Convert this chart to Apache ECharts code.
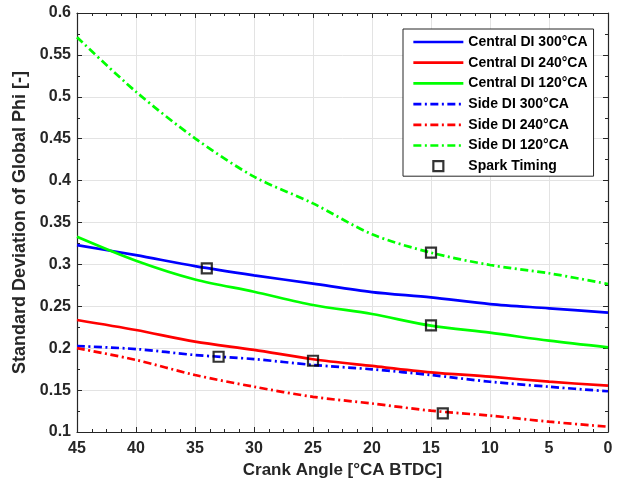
<!DOCTYPE html>
<html>
<head>
<meta charset="utf-8">
<script src="https://cdn.jsdelivr.net/npm/echarts@6/dist/echarts.min.js"></script>
<style>
  html, body { margin: 0; padding: 0; background: #fff; }
  #chart { width: 624px; height: 485px; }
</style>
</head>
<body>
<div id="chart"></div>
<script>
// crank angle [°CA BTDC]
const crankAngles = [45, 40, 35, 30, 25, 20, 15, 10, 5, 0];

const centralDI300 = [0.323, 0.311, 0.298, 0.287, 0.277, 0.267, 0.2607, 0.2527, 0.2476, 0.2424];
const centralDI240 = [0.2337, 0.2217, 0.2078, 0.198, 0.1868, 0.1788, 0.1712, 0.166, 0.160, 0.1553];
const centralDI120 = [0.333, 0.3044, 0.282, 0.2674, 0.2516, 0.2408, 0.2269, 0.2185, 0.209, 0.201];
const sideDI300 = [0.2026, 0.199, 0.1919, 0.187, 0.180, 0.1748, 0.168, 0.160, 0.154, 0.1486];
const sideDI240 = [0.200, 0.186, 0.168, 0.154, 0.142, 0.134, 0.1254, 0.1195, 0.1123, 0.1063];
const sideDI120 = [0.5711, 0.506, 0.4505, 0.4047, 0.3728, 0.336, 0.314, 0.2993, 0.2894, 0.2766];

const sparkAngles = [34, 33, 25, 15, 15, 14];
const sparkValues = [0.2953, 0.1898, 0.185, 0.314, 0.2273, 0.1223];

const lineNames = ['Central DI 300°CA', 'Central DI 240°CA', 'Central DI 120°CA',
                   'Side DI 300°CA', 'Side DI 240°CA', 'Side DI 120°CA'];

const font = "'Liberation Sans', Arial, sans-serif";
const ink = '#262626';
const dashDot = [8, 3.5, 2, 3.5];

const chart = echarts.init(document.getElementById('chart'));

function pairs(xs, ys) {
    return xs.map((x, i) => [x, ys[i]]);
}

function lineSeries(name, values, color, dashed) {
    return {
        name: name,
        type: 'line',
        data: pairs(crankAngles, values),
        smooth: 0.3,
        showSymbol: false,
        symbol: 'none',
        color: color,
        lineStyle: { color: color, width: 2.7, type: dashed ? dashDot : 'solid' }
    };
}

const boxAxis = {
    axisLine: { show: true, onZero: false, lineStyle: { color: ink, width: 1.2 } },
    axisTick: { show: true, inside: true, length: 5, lineStyle: { color: ink } }
};

chart.setOption({
    backgroundColor: '#fff',
    animation: false,
    textStyle: { fontFamily: font },
    grid: { left: 77, right: 16, top: 13, bottom: 53 },
    legend: {
        orient: 'vertical',
        left: 403,
        top: 29,
        padding: [6, 6, 3, 9],
        itemWidth: 50,
        itemHeight: 10,
        itemGap: 6.7,
        backgroundColor: '#fff',
        borderColor: ink,
        borderWidth: 1,
        lineStyle: { width: 2.7 },
        textStyle: { fontFamily: font, fontWeight: 'bold', fontSize: 14, lineHeight: 14, color: '#000' },
        data: lineNames.map(n => ({ name: n, itemStyle: { opacity: 0 } })).concat([{
            name: 'Spark Timing',
            icon: 'path://M0,0L10,0L10,10L0,10Z',
            itemStyle: { color: 'rgba(0,0,0,0)', borderColor: '#000', borderWidth: 2.2 }
        }])
    },
    xAxis: [Object.assign({
        type: 'value',
        inverse: true,
        min: 0,
        max: 45,
        interval: 5,
        name: 'Crank Angle [°CA BTDC]',
        nameLocation: 'middle',
        nameGap: 27,
        nameTextStyle: { fontFamily: font, fontWeight: 'bold', fontSize: 17, color: ink },
        minorTick: { show: true, splitNumber: 4, length: 3, lineStyle: { color: ink } },
        axisLabel: { fontFamily: font, fontWeight: 'bold', fontSize: 16, color: ink, margin: 9 },
        splitLine: { show: true, lineStyle: { color: '#e3e3e3', width: 1 } }
    }, boxAxis), Object.assign({
        type: 'value',
        inverse: true,
        position: 'top',
        min: 0,
        max: 45,
        interval: 5,
        minorTick: { show: true, splitNumber: 4, length: 3, lineStyle: { color: ink } },
        axisLabel: { show: false },
        splitLine: { show: false }
    }, boxAxis)],
    yAxis: [Object.assign({
        type: 'value',
        min: 0.1,
        max: 0.6,
        interval: 0.05,
        name: 'Standard Deviation of Global Phi [-]',
        nameLocation: 'middle',
        nameGap: 41,
        nameTextStyle: { fontFamily: font, fontWeight: 'bold', fontSize: 18, color: ink },
        minorTick: { show: true, splitNumber: 2, length: 3, lineStyle: { color: ink } },
        axisLabel: {
            fontFamily: font, fontWeight: 'bold', fontSize: 16, color: ink, margin: 6,
            formatter: v => String(parseFloat(v.toFixed(2)))
        },
        splitLine: { show: true, lineStyle: { color: '#e3e3e3', width: 1 } }
    }, boxAxis), Object.assign({
        type: 'value',
        position: 'right',
        min: 0.1,
        max: 0.6,
        interval: 0.05,
        minorTick: { show: true, splitNumber: 2, length: 3, lineStyle: { color: ink } },
        axisLabel: { show: false },
        splitLine: { show: false }
    }, boxAxis)],
    series: [
        lineSeries(lineNames[0], centralDI300, '#0000ff', false),
        lineSeries(lineNames[1], centralDI240, '#ff0000', false),
        lineSeries(lineNames[2], centralDI120, '#00ff00', false),
        lineSeries(lineNames[3], sideDI300, '#0000ff', true),
        lineSeries(lineNames[4], sideDI240, '#ff0000', true),
        lineSeries(lineNames[5], sideDI120, '#00ff00', true),
        {
            name: 'Spark Timing',
            type: 'scatter',
            data: pairs(sparkAngles, sparkValues),
            symbol: 'rect',
            symbolSize: 10,
            z: 5,
            itemStyle: { color: 'rgba(0,0,0,0)', borderColor: '#000', borderWidth: 2.2 }
        }
    ]
});
</script>
</body>
</html>
